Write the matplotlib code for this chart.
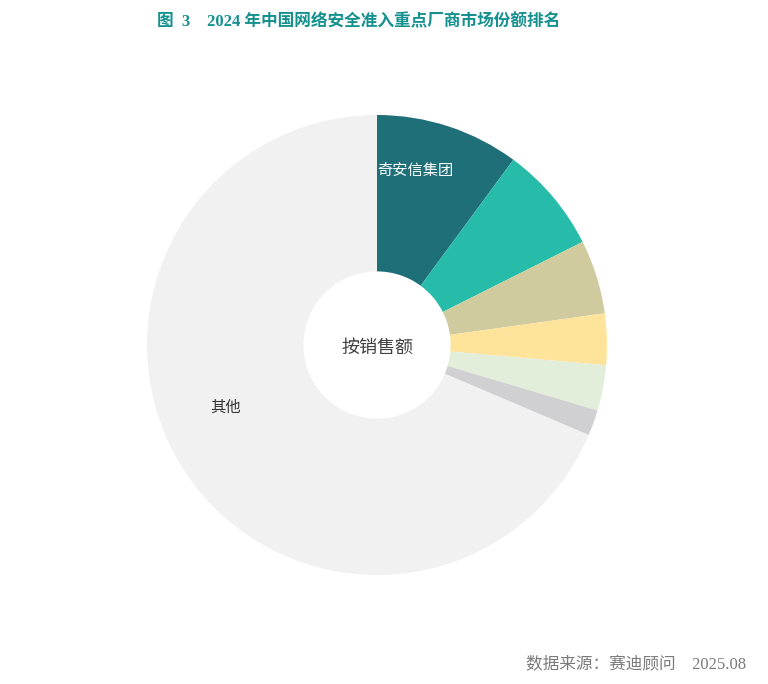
import matplotlib.pyplot as plt

plt.rcParams['font.family'] = ['Noto Sans CJK SC', 'DejaVu Sans']

# market share (%) by sales
vendors = ['奇安信集团', '', '', '', '', '', '其他']
shares = [10.1, 7.5, 5.2, 3.6, 3.2, 1.8, 68.6]
colors = ['#1f6f78', '#27bca9', '#cfcb9f', '#fde49a', '#e2eed9', '#d0cfd1', '#f1f1f1']

title = '2024 年中国网络安全准入重点厂商市场份额排名'
source = '数据来源：赛迪顾问    2025.08'

fig = plt.figure(figsize=(7.68, 6.84), dpi=100)

# ring centred at about (377, 345) px with radius 230 px
cx, cy, r = 377, 345, 230
ax = fig.add_axes([(cx - r) / 768, (684 - cy - r) / 684, 2 * r / 768, 2 * r / 684])
ax.pie(shares, colors=colors, startangle=90, counterclock=False, radius=1,
       wedgeprops=dict(width=0.68, linewidth=0))
ax.set_xlim(-1, 1)
ax.set_ylim(-1, 1)
ax.set_aspect('equal')
ax.axis('off')

ax.text(0.165, 0.76, vendors[0], color='white', fontsize=11, ha='center', va='center')
ax.text(-0.66, -0.27, vendors[-1], color='#333333', fontsize=11, ha='center', va='center')
ax.text(0, -0.01, '按销售额', color='#404040', fontsize=13, fontweight='medium',
        ha='center', va='center')

serif_cjk = ['Liberation Serif', 'Noto Sans CJK SC']
fig.text(157 / 768, 1 - 22 / 684, '图  3', color='#14918f', fontsize=12,
         fontweight='bold', ha='left', va='center', family=serif_cjk)
fig.text(207 / 768, 1 - 22 / 684, title, color='#14918f', fontsize=12,
         fontweight='bold', ha='left', va='center', family=serif_cjk)

fig.text(746 / 768, 1 - 664 / 684, source, color='#7a7a7a', fontsize=12,
         ha='right', va='center', family=serif_cjk)

fig.savefig('out.png', dpi=100, facecolor='white')
